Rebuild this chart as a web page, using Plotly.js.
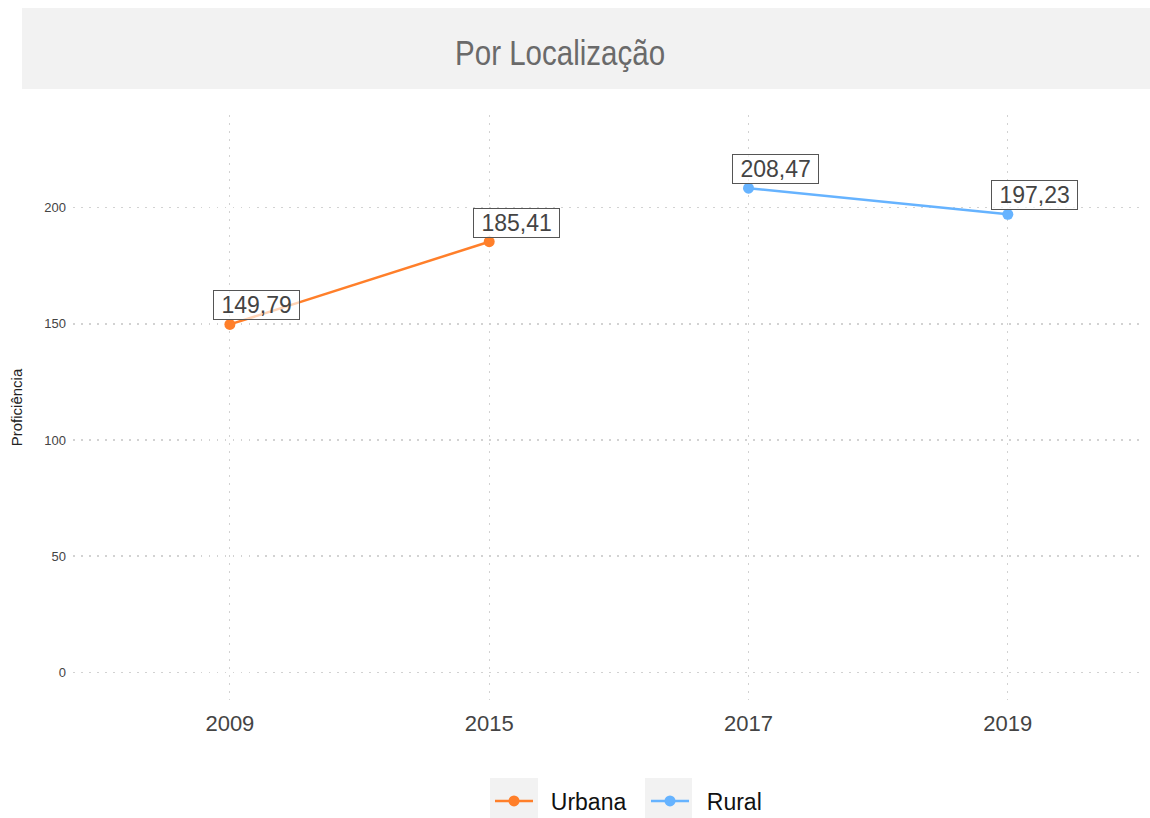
<!DOCTYPE html>
<html><head><meta charset="utf-8">
<script src="https://cdn.plot.ly/plotly-3.0.1.min.js"></script>
<style>html,body{margin:0;padding:0;background:#fff}#chart{width:1150px;height:818px}</style>
</head><body><div id="chart"></div>
<script>
const categories = ["2009", "2015", "2017", "2019"];
const urbanaYears = ["2009", "2015"];
const urbanaValues = [149.79, 185.41];
const ruralYears = ["2017", "2019"];
const ruralValues = [208.47, 197.23];
const yTicks = [0, 50, 100, 150, 200];

const fmt = v => v.toFixed(2).replace('.', ',');
const orange = '#ff7f2a', blue = '#66b3ff';
const NB = '\u00a0';

const traces = [
  {x: urbanaYears, y: urbanaValues, name: NB + NB + 'Urbana', type: 'scatter', mode: 'lines+markers',
   line: {color: orange, width: 2.5}, marker: {color: orange, size: 11}},
  {x: ruralYears, y: ruralValues, name: NB + NB + 'Rural', type: 'scatter', mode: 'lines+markers',
   line: {color: blue, width: 2.5}, marker: {color: blue, size: 11}}
];

const annotations = [];
[[urbanaYears, urbanaValues], [ruralYears, ruralValues]].forEach(([xs, ys]) => {
  xs.forEach((x, i) => annotations.push({
    x: categories.indexOf(x), y: ys[i], xref: 'x', yref: 'y', text: NB + fmt(ys[i]) + NB, showarrow: false,
    xanchor: 'center', yanchor: 'bottom', xshift: 27, yshift: 4,
    font: {family: 'Liberation Sans, Arial, sans-serif', size: 23, color: '#444'},
    bordercolor: '#555', borderwidth: 1, borderpad: 1, bgcolor: 'rgba(255,255,255,0.65)'
  }));
});

const L = 73, R = 5, T = 115, B = 118;
const W = 1150 - L - R, H = 818 - T - B;
const px = v => (v - L) / W;
const py = v => (818 - B - v) / H;

annotations.push({
  xref: 'paper', yref: 'paper', x: px(560), y: py(53), xanchor: 'center', yanchor: 'middle',
  text: 'Por Localização', showarrow: false,
  font: {family: 'Liberation Sans, Arial, sans-serif', size: 36, color: '#6a6a6a'}
});

const shapes = [
  {type: 'rect', xref: 'paper', yref: 'paper', x0: px(22), x1: px(1150), y0: py(89), y1: py(8),
   fillcolor: '#f2f2f2', line: {width: 0}, layer: 'below'},
  {type: 'rect', xref: 'paper', yref: 'paper', x0: px(490), x1: px(538), y0: py(818), y1: py(778),
   fillcolor: '#f2f2f2', line: {width: 0}, layer: 'below'},
  {type: 'rect', xref: 'paper', yref: 'paper', x0: px(645), x1: px(692), y0: py(818), y1: py(778),
   fillcolor: '#f2f2f2', line: {width: 0}, layer: 'below'}
];

const gridDash = '1.5px,6.5px';

const layout = {
  width: 1150, height: 818,
  margin: {l: L, r: R, t: T, b: B, autoexpand: false},
  paper_bgcolor: '#fff', plot_bgcolor: '#fff',
  font: {family: 'Liberation Sans, Arial, sans-serif', color: '#444'},
  showlegend: true,
  legend: {orientation: 'h', xref: 'container', yref: 'container', x: 490 / 1150, xanchor: 'left',
           y: 1 - 801 / 818, yanchor: 'middle', itemwidth: 38, entrywidth: 103, entrywidthmode: 'pixels',
           font: {size: 23, color: '#111'}, bgcolor: 'rgba(0,0,0,0)'},
  xaxis: {type: 'category', categoryorder: 'array', categoryarray: categories,
          range: [-0.605, 3.529], showgrid: true, gridcolor: '#d2d2d2', griddash: gridDash, gridwidth: 1.2,
          zeroline: false, showline: false, ticks: '', tickfont: {size: 22, color: '#444'}, ticklabelstandoff: 8},
  yaxis: {range: [-12, 240], tickvals: yTicks, ticktext: yTicks.map(String),
          showgrid: true, gridcolor: '#d2d2d2', griddash: gridDash, gridwidth: 1.2, zeroline: false,
          showline: false, ticks: '', tickfont: {size: 13, color: '#444'}, ticklabelstandoff: 6,
          title: {text: 'Proficiência', font: {size: 15, color: '#222'}, standoff: 18}},
  annotations: annotations,
  shapes: shapes
};

Plotly.newPlot('chart', traces, layout, {displayModeBar: false, staticPlot: true}).then(gd => {
  document.querySelectorAll('.annotation-text').forEach(t => {
    if (t.textContent === 'Por Localização') {
      t.style.transformBox = 'fill-box';
      t.style.transformOrigin = 'center';
      t.style.transform = 'scaleX(0.82)';
    }
  });
});
</script></body></html>
